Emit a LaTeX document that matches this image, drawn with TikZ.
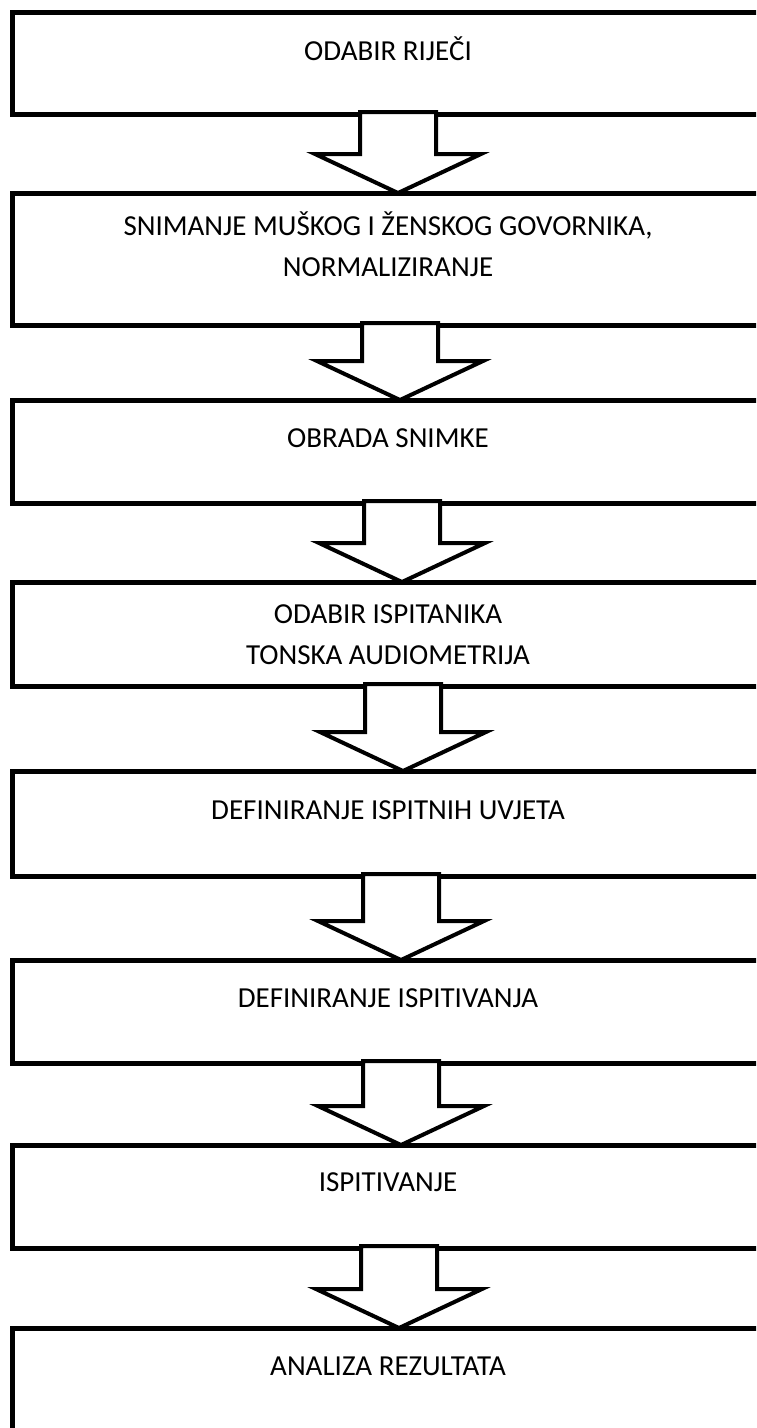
\documentclass[tikz,border=0pt]{standalone}
\usepackage{fontspec}
\setmainfont{Carlito}
\usetikzlibrary{calc}
\tikzset{
  box/.style={draw=black, line width=5pt, minimum width=776pt, outer sep=0pt, inner sep=0pt},
  lbl/.style={font=\fontsize{29}{41}\selectfont, anchor=base, inner sep=0pt, align=center},
  blockarrow/.style={draw=black, fill=white, line width=4pt, miter limit=10}
}
\newcommand\flowarrow[3]{%
  \draw[blockarrow] let \p1=(#1.south), \p2=(#2.north) in
    (\x1+#3-38pt,\y1+2pt) -- (\x1+#3+38pt,\y1+2pt) -- (\x1+#3+38pt,\y2+39pt)
    -- (\x1+#3+83pt,\y2+39pt) -- (\x1+#3,\y2) -- (\x1+#3-83pt,\y2+39pt)
    -- (\x1+#3-38pt,\y2+39pt) -- cycle;}
\begin{document}
\begin{tikzpicture}[x=1pt,y=-1pt]
\useasboundingbox (0,0) rectangle (756,1428);
\clip (0,0) rectangle (756,1428);
\fill[white] (0,0) rectangle (756,1428);
% boxes
\node[box, minimum height=102pt] (b1) at (400,63) {};
\node[box, minimum height=132pt] (b2) at (400,259) {};
\node[box, minimum height=103pt] (b3) at (400,451.5) {};
\node[box, minimum height=104pt] (b4) at (400,634) {};
\node[box, minimum height=105pt] (b5) at (400,823.5) {};
\node[box, minimum height=103pt] (b6) at (400,1011.5) {};
\node[box, minimum height=103pt] (b7) at (400,1196.5) {};
\node[box, minimum height=132pt] (b8) at (400,1394) {};
% texts (base anchor = baseline of last line)
\node[lbl] (t1) at (388,60) {ODABIR RIJEČI};
\node[lbl] (t2) at (388,276) {SNIMANJE MUŠKOG I ŽENSKOG GOVORNIKA,\\NORMALIZIRANJE};
\node[lbl] (t3) at (388,447) {OBRADA SNIMKE};
\node[lbl] (t4) at (388,664) {ODABIR ISPITANIKA\\TONSKA AUDIOMETRIJA};
\node[lbl] (t5) at (388,819) {DEFINIRANJE ISPITNIH UVJETA};
\node[lbl] (t6) at (388,1007) {DEFINIRANJE ISPITIVANJA};
\node[lbl] (t7) at (388,1191) {ISPITIVANJE};
\node[lbl] (t8) at (388,1375) {ANALIZA REZULTATA};
% block arrows
\flowarrow{b1}{b2}{-2pt}
\flowarrow{b2}{b3}{0pt}
\flowarrow{b3}{b4}{2pt}
\flowarrow{b4}{b5}{3pt}
\flowarrow{b5}{b6}{1pt}
\flowarrow{b6}{b7}{1pt}
\flowarrow{b7}{b8}{-1pt}
\end{tikzpicture}
\end{document}
